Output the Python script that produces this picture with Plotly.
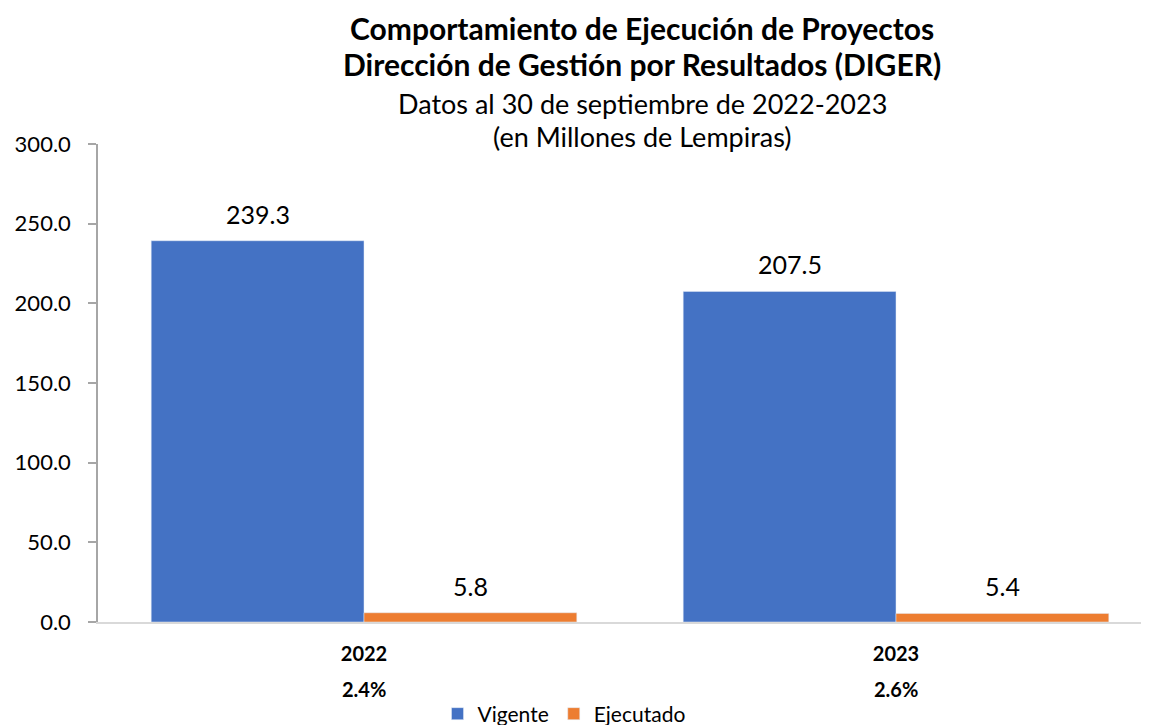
import plotly.graph_objects as go

years = ["2022", "2023"]
pct_labels = ["2.4%", "2.6%"]
vigente = [239.3, 207.5]
ejecutado = [5.8, 5.4]
y_ticks = [0, 50, 100, 150, 200, 250, 300]

FONT = "Lato"
BLUE = "#4472C4"
ORANGE = "#ED7D31"

fig = go.Figure()
fig.add_trace(go.Bar(name="Vigente", x=years, y=vigente, marker_color=BLUE))
fig.add_trace(go.Bar(name="Ejecutado", x=years, y=ejecutado, marker_color=ORANGE))

OFF = 8  # page body margin offset
W, H = 1149 - OFF, 725 - OFF
L, R, T, B = 98 - OFF, 0, 144 - OFF, 725 - 622
ph = H - T - B
CAT_PX = 532.0

def py(p):
    # p in reference pixels
    return (H - B - (p - OFF)) / ph

def px(p):
    return (p - OFF - L) / (W - L - R)

annotations = []
for series, shift in ((vigente, -CAT_PX * 0.2), (ejecutado, CAT_PX * 0.2)):
    for i, v in enumerate(series):
        annotations.append(dict(
            text=f"{v:.1f}", x=i, y=v, xref="x", yref="y",
            xshift=shift, yshift=27, xanchor="center", yanchor="middle",
            showarrow=False, font=dict(size=25, family=FONT, color="#000000"),
        ))

# second line of category labels (execution percentage)
for i, p in enumerate(pct_labels):
    annotations.append(dict(
        text=f"<b>{p}</b>", x=i, y=py(689), xref="x", yref="paper",
        xanchor="center", yanchor="middle", showarrow=False,
        font=dict(size=20, family=FONT, color="#000000"),
    ))

titles = [
    ("<b>Comportamiento de Ejecución de Proyectos</b>", 28, 30),
    ("<b>Dirección de Gestión por Resultados (DIGER)</b>", 64, 30),
    ("Datos al 30 de septiembre de 2022-2023", 103, 27),
    ("(en Millones de Lempiras)", 137, 27),
]
for txt, yp, sz in titles:
    annotations.append(dict(
        text=txt, xref="paper", yref="paper", x=px(642), y=py(yp),
        xanchor="center", yanchor="middle", showarrow=False,
        font=dict(size=sz, family=FONT, color="#000000"),
    ))

fig.update_layout(
    width=W, height=H,
    margin=dict(l=L, r=R, t=T, b=B, pad=0, autoexpand=False),
    paper_bgcolor="white", plot_bgcolor="white",
    barmode="group", bargap=0.2, bargroupgap=0,
    font=dict(family=FONT, color="#000000"),
    annotations=annotations,
    showlegend=True,
    legend=dict(
        orientation="h", x=px(564), y=py(714), xanchor="center", yanchor="middle",
        font=dict(size=21, family=FONT, color="#000000"),
        tracegroupgap=0,
    ),
    xaxis=dict(
        type="category", range=[-0.5, -0.5 + (W - L - R) / CAT_PX],
        tickvals=years,
        ticktext=[f"<b>{y}</b>" for y in years],
        tickfont=dict(size=20, family=FONT, color="#000000"),
        showline=True, linecolor="#D9D9D9", linewidth=2,
        ticks="", showgrid=False, ticklabelstandoff=13, automargin=False,
    ),
    yaxis=dict(
        range=[0, 300], tickvals=y_ticks,
        ticktext=[f"{v:.1f}" for v in y_ticks],
        tickfont=dict(size=22, family=FONT, color="#000000"),
        showline=True, linecolor="#A6A6A6", linewidth=1.5,
        ticks="outside", ticklen=8, tickcolor="#A6A6A6", tickwidth=1.5,
        showgrid=False, zeroline=False, ticklabelstandoff=13, automargin=False,
    ),
)

fig.write_html("out.html")
